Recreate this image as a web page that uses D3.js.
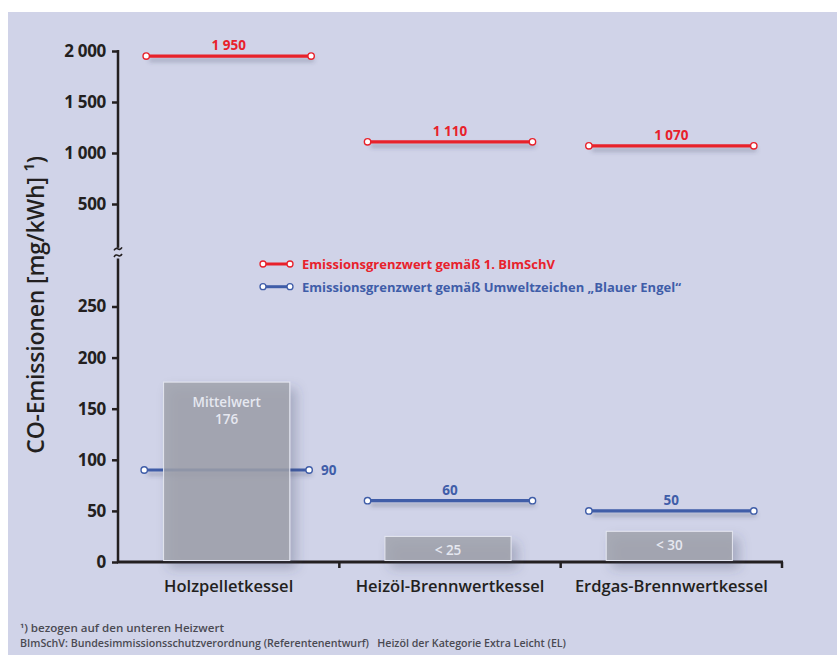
<!DOCTYPE html>
<html>
<head>
<meta charset="utf-8">
<script src="https://cdn.jsdelivr.net/npm/d3@7"></script>
<style>
  html, body { margin: 0; padding: 0; background: #fff; }
  svg { display: block; }
  text { font-family: "Open Sans", "Noto Sans", sans-serif; }
</style>
</head>
<body>
<svg id="chart" width="837" height="655"></svg>
<script>
// CO emissions of heating boilers with statutory limits
const categories = ["Holzpelletkessel", "Heizöl-Brennwertkessel", "Erdgas-Brennwertkessel"];
const meanValues = [176, 25, 30];
const barLabels = [["Mittelwert", "176"], ["< 25"], ["< 30"]];
const limitBImSchV = [1950, 1110, 1070];
const limitBlauerEngel = [90, 60, 50];
const upperTicks = [500, 1000, 1500, 2000];
const lowerTicks = [0, 50, 100, 150, 200, 250];
const legendLabels = [
  "Emissionsgrenzwert gemäß 1. BImSchV",
  "Emissionsgrenzwert gemäß Umweltzeichen „Blauer Engel“"
];
const footnotes = [
  "¹) bezogen auf den unteren Heizwert",
  "BImSchV: Bundesimmissionsschutzverordnung (Referentenentwurf)   Heizöl der Kategorie Extra Leicht (EL)"
];

const RED = "#e8212b", BLUE = "#3f5da8", INK = "#231f20";

const svg = d3.select("#chart");
const defs = svg.append("defs");
const lineShadow = defs.append("filter").attr("id", "lineShadow")
  .attr("filterUnits", "userSpaceOnUse")
  .attr("x", 0).attr("y", 0).attr("width", 837).attr("height", 655);
lineShadow.append("feDropShadow").attr("dx", 3).attr("dy", 4).attr("stdDeviation", 2)
  .attr("flood-color", "#3c4060").attr("flood-opacity", 0.35);
const barShadow = defs.append("filter").attr("id", "barShadow")
  .attr("filterUnits", "userSpaceOnUse")
  .attr("x", 0).attr("y", 0).attr("width", 837).attr("height", 655);
barShadow.append("feDropShadow").attr("dx", 6).attr("dy", 7).attr("stdDeviation", 6)
  .attr("flood-color", "#3c4060").attr("flood-opacity", 0.35);

// panel
svg.append("rect").attr("x", 8).attr("y", 12).attr("width", 829).attr("height", 643)
  .attr("fill", "#d0d3e8");

const fmt = d3.formatLocale({ thousands: " ", grouping: [3], decimal: ",", currency: ["", ""] }).format(",");

const axisX = 118, axisRight = 782, baseY = 562;
const x = d3.scaleBand().domain(categories).range([axisX, axisRight]).padding(0);
const yU = d3.scaleLinear().domain([0, 2000]).range([255, 51]);   // upper (broken) segment
const yL = d3.scaleLinear().domain([0, 250]).range([baseY, 306.5]); // lower segment
const upperMin = 70, lowerMax = 297;

const cx = (i) => x(categories[i]) + x.bandwidth() / 2;
const barW = x.bandwidth() * 0.57;
const limW = x.bandwidth() * 0.745;

// y axis ticks
const gU = svg.append("g").attr("transform", `translate(${axisX},0)`);
gU.call(d3.axisLeft(yU).tickValues(d3.range(100, 2000, 100)).tickSize(3).tickFormat(""));
gU.call(d3.axisLeft(yU).tickValues(upperTicks).tickSize(6).tickPadding(6).tickFormat(fmt));
const gL = svg.append("g").attr("transform", `translate(${axisX},0)`);
gL.call(d3.axisLeft(yL).tickValues(d3.range(10, 300, 10)).tickSize(3).tickFormat(""));
gL.call(d3.axisLeft(yL).tickValues(lowerTicks).tickSize(6).tickPadding(6).tickFormat(fmt));
svg.selectAll(".domain").remove();
svg.selectAll(".tick line").attr("stroke", INK).attr("stroke-width", 2.5);
svg.selectAll(".tick text").attr("fill", INK).attr("font-size", 17).attr("font-weight", 700)
  .attr("letter-spacing", -0.3);

// axis lines with break
svg.append("line").attr("x1", axisX).attr("x2", axisX).attr("y1", yU(2000) - 1).attr("y2", yU(upperMin))
  .attr("stroke", INK).attr("stroke-width", 2.5);
svg.append("line").attr("x1", axisX).attr("x2", axisX).attr("y1", yL(lowerMax)).attr("y2", baseY)
  .attr("stroke", INK).attr("stroke-width", 2.5);
const brk = svg.append("g").attr("fill", "none").attr("stroke", INK).attr("stroke-width", 1.6);
[yU(upperMin) + 1, yL(lowerMax) - 3].forEach(yy => {
  brk.append("path").attr("d", `M${axisX - 4},${yy + 1.5} q2,-3 4,-1.5 q2,1.5 4,-1.5`);
});

// x axis
svg.append("line").attr("x1", axisX - 1).attr("x2", axisRight + 1).attr("y1", baseY).attr("y2", baseY)
  .attr("stroke", INK).attr("stroke-width", 3);
categories.forEach((c, i) => {
  const bx = x(c) + x.bandwidth();
  svg.append("line").attr("x1", bx).attr("x2", bx).attr("y1", baseY).attr("y2", baseY + 6)
    .attr("stroke", INK).attr("stroke-width", 2.5);
});
const gX = svg.append("g").attr("transform", `translate(0,${baseY})`)
  .call(d3.axisBottom(x).tickSize(0).tickPadding(18));
gX.select(".domain").remove();
gX.selectAll("text").attr("fill", INK).attr("font-size", 16.5).attr("font-weight", 600);

// limit lines
function limitLine(g, y1, x1, x2, color) {
  g.append("line").attr("x1", x1).attr("x2", x2).attr("y1", y1).attr("y2", y1)
    .attr("stroke", color).attr("stroke-width", 3.2).attr("filter", "url(#lineShadow)");
  [x1, x2].forEach(px => g.append("circle").attr("cx", px).attr("cy", y1).attr("r", 3.2)
    .attr("fill", "#fff").attr("stroke", color).attr("stroke-width", 1.4));
}

const gLim = svg.append("g");
limitBImSchV.forEach((v, i) => {
  const yy = yU(v);
  limitLine(gLim, yy, cx(i) - limW / 2, cx(i) + limW / 2, RED);
  gLim.append("text").attr("x", cx(i)).attr("y", yy - 6).attr("text-anchor", "middle")
    .attr("fill", RED).attr("font-size", 13.5).attr("font-weight", 700).text(fmt(v));
});
limitBlauerEngel.forEach((v, i) => {
  const yy = yL(v);
  limitLine(gLim, yy, cx(i) - limW / 2 - (i === 0 ? 2 : 0), cx(i) + limW / 2 - (i === 0 ? 2 : 0), BLUE);
  const t = gLim.append("text").attr("fill", BLUE).attr("font-size", 13.5).attr("font-weight", 700).text(fmt(v));
  if (i === 0) t.attr("x", cx(i) + limW / 2 + 10).attr("y", yy + 5);
  else t.attr("x", cx(i)).attr("y", yy - 6).attr("text-anchor", "middle");
});

// mean-value bars, translucent over the limit lines
const gBars = svg.append("g");
meanValues.forEach((v, i) => {
  const top = yL(v);
  gBars.append("rect").attr("x", cx(i) - barW / 2 - 2).attr("y", top)
    .attr("width", barW).attr("height", baseY - 1.5 - top)
    .attr("fill", "#9fa1ab").attr("fill-opacity", 0.82)
    .attr("stroke", "#e4e6f0").attr("stroke-width", 1)
    .attr("filter", "url(#barShadow)");
  barLabels[i].forEach((s, k) => {
    gBars.append("text").attr("x", cx(i) - 2)
      .attr("y", top + (barLabels[i].length > 1 ? 25 + k * 17 : 19))
      .attr("text-anchor", "middle").attr("fill", "#e6e8f0")
      .attr("font-size", 13.5).attr("font-weight", 600).text(s);
  });
});
svg.node().appendChild(gX.node());

// legend
const gLeg = svg.append("g");
[RED, BLUE].forEach((col, k) => {
  const yy = 264 + k * 22.7;
  gLeg.append("line").attr("x1", 263).attr("x2", 290).attr("y1", yy).attr("y2", yy)
    .attr("stroke", col).attr("stroke-width", 3);
  [263, 290].forEach(px => gLeg.append("circle").attr("cx", px).attr("cy", yy).attr("r", 3)
    .attr("fill", "#fff").attr("stroke", col).attr("stroke-width", 1.3));
  gLeg.append("text").attr("x", 302).attr("y", yy + 5).attr("fill", col)
    .attr("font-size", 13).attr("font-weight", 700).text(legendLabels[k]);
});

// y axis title
svg.append("text").attr("transform", "translate(44,305) rotate(-90)")
  .attr("text-anchor", "middle").attr("fill", INK).attr("font-size", 23).attr("font-weight", 600)
  .attr("letter-spacing", -0.2)
  .text("CO-Emissionen [mg/kWh] ¹)");

// footnotes
const fnWidths = [204, 546];
footnotes.forEach((s, k) => {
  svg.append("text").attr("x", 20).attr("y", 632 + k * 15).attr("fill", "#4a4a52")
    .attr("font-size", 10).attr("font-weight", 600).style("white-space", "pre")
    .attr("textLength", fnWidths[k]).attr("lengthAdjust", "spacingAndGlyphs").text(s);
});
</script>
</body>
</html>
